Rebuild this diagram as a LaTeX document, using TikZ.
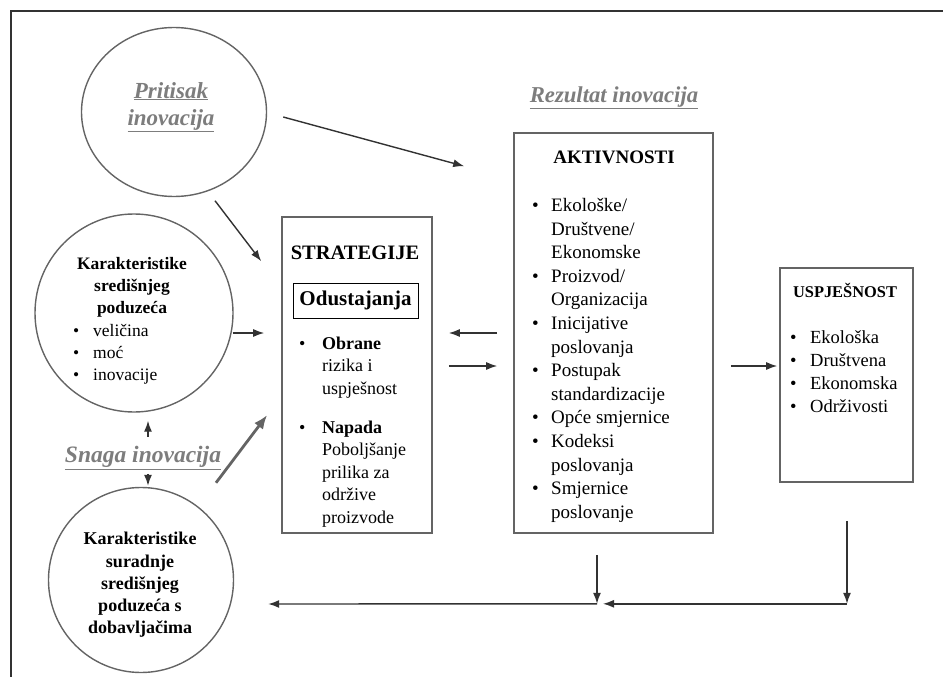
\documentclass[tikz,border=0pt]{standalone}
\usepackage{fontspec}
\setmainfont{Liberation Serif}
\usetikzlibrary{arrows.meta,calc,shapes.geometric}
\definecolor{LineClr}{RGB}{100,100,100}
\definecolor{ArrowClr}{RGB}{50,50,50}
\definecolor{InnovClr}{RGB}{125,125,125}

\newcommand{\bul}[1]{\makebox[#1][l]{\textbullet}}

\begin{document}
\begin{tikzpicture}[x=1pt,y=-1pt,
  oval/.style={draw=LineClr,line width=1.4pt,inner sep=0pt},
  box/.style={draw=LineClr,line width=1.6pt,inner sep=0pt},
  arr/.style={draw=ArrowClr,line width=1.4pt,-{Latex[length=11pt,width=8pt]}},
  innov/.style={text=InnovClr,font=\fontsize{23}{27}\selectfont\bfseries\itshape,align=center,inner sep=0pt},
  head/.style={font=\bfseries,inner sep=0pt},
  list/.style={anchor=base west,inner sep=0pt}]

\useasboundingbox (0,0) rectangle (943,677);

% outer frame
\draw[line width=1.4pt,ArrowClr] (943,11) -| (11,677);

% left column
\node[oval,ellipse,minimum width=185pt,minimum height=169pt] (pritisak) at (174,112) {};
\node[innov] (pritisakT) at (171,107) {\underline{Pritisak}\\\underline{inovacija}};

\node[oval,circle,minimum size=198pt] (kar1) at (134,313) {};
\node[head,align=center,font=\fontsize{17.5}{22}\selectfont\bfseries] (kar1T) at (132,287)
  {Karakteristike\\središnjeg\\poduzeća};
\node[list,font=\fontsize{17.5}{22}\selectfont] (kar1L) at (73,336)
  {\begin{tabular}[t]{@{}l@{}}
   \bul{20pt}veličina\\
   \bul{20pt}moć\\
   \bul{20pt}inovacije
   \end{tabular}};

\node[innov,font=\fontsize{23.5}{27}\selectfont\bfseries\itshape] (snaga) at (143,458) {\underline{Snaga inovacija}};

\node[oval,circle,minimum size=185pt] (kar2) at (141,580) {};
\node[head,align=center,font=\fontsize{18}{22.2}\selectfont\bfseries] (kar2T) at (140,585)
  {Karakteristike\\suradnje\\središnjeg\\poduzeća s\\dobavljačima};

% strategije
\node[box,minimum width=150pt,minimum height=316pt] (strat) at (357,375) {};
\node[head,font=\fontsize{20.5}{24}\selectfont\bfseries] (stratH) at (355,253) {STRATEGIJE};
\node[draw=black,line width=0.9pt,minimum width=125pt,minimum height=35pt,inner sep=0pt,
  font=\fontsize{21}{24}\selectfont\bfseries] (odust) at (355.5,300.5) {Odustajanja};
\node[list,font=\fontsize{18}{22.5}\selectfont] (stratL) at (299,349)
  {\begin{tabular}[t]{@{}l@{}}
   \bul{23pt}\textbf{Obrane}\\
   \hspace*{23pt}rizika i\\
   \hspace*{23pt}uspješnost\\[16.5pt]
   \bul{23pt}\textbf{Napada}\\
   \hspace*{23pt}Poboljšanje\\
   \hspace*{23pt}prilika za\\
   \hspace*{23pt}održive\\
   \hspace*{23pt}proizvode
   \end{tabular}};

% aktivnosti
\node[innov,font=\fontsize{22.7}{27}\selectfont\bfseries\itshape] (rezultat) at (614,98) {\underline{Rezultat inovacija}};
\node[box,minimum width=199pt,minimum height=400pt] (akt) at (613.5,333) {};
\node[head,font=\fontsize{19}{23}\selectfont\bfseries] (aktH) at (614,157) {AKTIVNOSTI};
\node[list,font=\fontsize{19}{23.6}\selectfont] (aktL) at (532,211.5)
  {\begin{tabular}[t]{@{}l@{}}
   \bul{19pt}Ekološke/\\
   \hspace*{19pt}Društvene/\\
   \hspace*{19pt}Ekonomske\\
   \bul{19pt}Proizvod/\\
   \hspace*{19pt}Organizacija\\
   \bul{19pt}Inicijative\\
   \hspace*{19pt}poslovanja\\
   \bul{19pt}Postupak\\
   \hspace*{19pt}standardizacije\\
   \bul{19pt}Opće smjernice\\
   \bul{19pt}Kodeksi\\
   \hspace*{19pt}poslovanja\\
   \bul{19pt}Smjernice\\
   \hspace*{19pt}poslovanje
   \end{tabular}};

% uspjesnost
\node[box,minimum width=133pt,minimum height=214pt] (usp) at (846.5,375) {};
\node[head,font=\fontsize{16.4}{20}\selectfont\bfseries] (uspH) at (845,290) {USPJEŠNOST};
\node[list,font=\fontsize{18.5}{23}\selectfont] (uspL) at (790,343)
  {\begin{tabular}[t]{@{}l@{}}
   \bul{20pt}Ekološka\\
   \bul{20pt}Društvena\\
   \bul{20pt}Ekonomska\\
   \bul{20pt}Održivosti
   \end{tabular}};

% connectors
\coordinate (turn) at ($(usp.south)+(0.5,121)$);
\coordinate (join) at ($(akt.south)+(-16.5,70)$);

\draw[arr] ($(pritisak.east)+(16,5)$) -- ($(akt.north west)+(-49,34)$);
\draw[arr] ($(pritisak.south)+(41,3.5)$) -- ($(strat.north west)+(-20,45)$);
\draw[arr] ($(kar1.east)+(-1,20)$) -- ($(strat.west)+(-17,-42)$);
\draw[arr] ($(kar1.south)+(14,24)$) -- ($(kar1.south)+(14,8)$);
\draw[arr] ($(kar2.north)+(7,-13)$) -- ($(kar2.north)+(7,-1)$);
\draw[draw=LineClr,line width=2.8pt,-{Latex[length=14pt,width=11pt]}]
  ($(kar2.north)+(75,-4)$) -- ($(strat.west)+(-14,40)$);
\draw[arr] ($(akt.west)+(-16,0)$) -- ($(strat.east)+(16,-42)$);
\draw[arr] ($(strat.east)+(16,-9)$) -- ($(akt.west)+(-16,33)$);
\draw[arr] ($(akt.east)+(17,33)$) -- ($(usp.west)+(-2,-9)$);
\draw[arr] ($(usp.south)+(0.5,38)$) -- (turn);
\draw[arr] (turn) -- ($(join)+(6,0)$);
\draw[arr] ($(akt.south)+(-16.5,21)$) -- (join);
\draw[arr] (join) -- ($(kar2.east)+(34,24)$);

\end{tikzpicture}
\end{document}
